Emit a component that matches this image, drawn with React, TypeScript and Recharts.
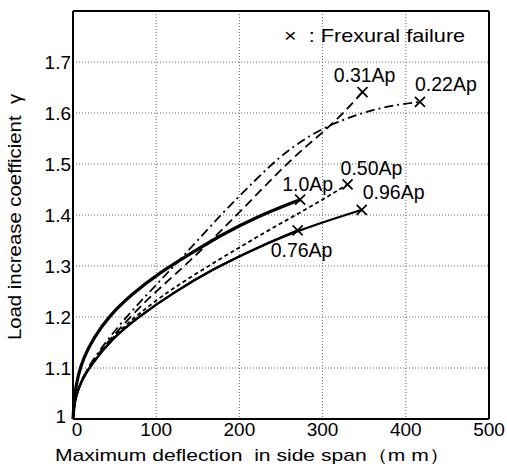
import { LineChart, Line, XAxis, YAxis, CartesianGrid, ReferenceLine } from "recharts";

// tick values
const xTicks = [0, 100, 200, 300, 400, 500];
const yTicks = [1, 1.1, 1.2, 1.3, 1.4, 1.5, 1.6, 1.7];

// 1.0Ap (thick solid)
const ap100X = [0, 2, 6, 12, 25, 44, 70, 105, 140, 177, 220, 273];
const ap100Y = [1.0, 1.05, 1.085, 1.118, 1.16, 1.203, 1.244, 1.288, 1.323, 1.36, 1.396, 1.43];

// 0.96Ap (solid)
const ap96X = [0, 2, 6, 12, 20, 45, 80, 120, 168, 220, 270, 347];
const ap96Y = [1.0, 1.035, 1.057, 1.08, 1.102, 1.155, 1.202, 1.247, 1.294, 1.335, 1.37, 1.41];

// 0.76Ap (solid, ends earlier)
const ap76X = [0, 2, 6, 12, 20, 45, 80, 120, 168, 220, 270];
const ap76Y = [1.0, 1.035, 1.057, 1.08, 1.102, 1.155, 1.202, 1.247, 1.294, 1.335, 1.37];

// 0.50Ap (short dash)
const ap50X = [0, 2, 6, 12, 20, 45, 80, 120, 177, 220, 273, 300, 330];
const ap50Y = [1.0, 1.035, 1.057, 1.08, 1.102, 1.158, 1.208, 1.257, 1.314, 1.356, 1.405, 1.43, 1.46];

// 0.31Ap (long dash)
const ap31X = [0, 2, 6, 12, 25, 56, 90, 120, 160, 200, 249, 280, 315, 348];
const ap31Y = [1.0, 1.035, 1.058, 1.082, 1.118, 1.178, 1.236, 1.279, 1.34, 1.405, 1.488, 1.535, 1.582, 1.641];

// 0.22Ap (dash-dot)
const ap22X = [0, 2, 6, 12, 25, 56, 90, 132, 180, 220, 249, 280, 315, 369, 417];
const ap22Y = [1.0, 1.035, 1.058, 1.083, 1.12, 1.186, 1.246, 1.318, 1.405, 1.47, 1.515, 1.552, 1.582, 1.612, 1.622];

const toRows = (xs: number[], ys: number[]) => xs.map((x, i) => ({ x, y: ys[i] }));

const FONT = "'Liberation Sans', Arial, Helvetica, sans-serif";

const series = [
  { name: "1.0Ap", data: toRows(ap100X, ap100Y), width: 3.2, dash: undefined, dx: -18, dy: -8.5, anchor: "start" },
  { name: "0.96Ap", data: toRows(ap96X, ap96Y), width: 2.2, dash: undefined, dx: 1, dy: -10.5, anchor: "start" },
  { name: "0.76Ap", data: toRows(ap76X, ap76Y), width: 2.2, dash: undefined, dx: -27, dy: 26.5, anchor: "start" },
  { name: "0.50Ap", data: toRows(ap50X, ap50Y), width: 1.8, dash: "4 3", dx: -7, dy: -9.5, anchor: "start" },
  { name: "0.31Ap", data: toRows(ap31X, ap31Y), width: 1.8, dash: "9 5", dx: 2, dy: -10.5, anchor: "middle" },
  { name: "0.22Ap", data: toRows(ap22X, ap22Y), width: 1.8, dash: "9 4 2 4", dx: -5, dy: -10.5, anchor: "start" },
];

function makeDot(s: (typeof series)[number]) {
  return (props: any) => {
    const { cx, cy, index } = props;
    const key = `${s.name}-${index}`;
    if (index !== s.data.length - 1) return <g key={key} />;
    return (
      <g key={key}>
        <path
          d={`M${cx - 5},${cy - 5}L${cx + 5},${cy + 5}M${cx + 5},${cy - 5}L${cx - 5},${cy + 5}`}
          stroke="#000"
          strokeWidth={1.7}
        />
        <text x={cx + s.dx} y={cy + s.dy} textAnchor={s.anchor} fontSize={19.5} fontFamily={FONT} fill="#000">
          {s.name}
        </text>
      </g>
    );
  };
}

function XTick(props: any) {
  const { x, y, payload } = props;
  const shift = payload.value === 0 ? 4 : 0;
  return (
    <text x={x + shift} y={y} dy="0.71em" textAnchor="middle" fontSize={19} fontFamily={FONT} fill="#000">
      {payload.value}
    </text>
  );
}

function YTick(props: any) {
  const { x, y, payload } = props;
  const isOne = payload.value === 1;
  return (
    <text
      x={isOne ? x - 5 : x}
      y={isOne ? y - 3 : y}
      dy="0.355em"
      textAnchor="end"
      fontSize={19}
      fontFamily={FONT}
      fill="#000"
    >
      {isOne ? "1" : payload.value.toFixed(1)}
    </text>
  );
}

export default function App() {
  return (
    <div style={{ position: "absolute", left: 0, top: 0, width: 507, height: 474, background: "#fff", fontFamily: FONT }}>
      <LineChart width={507} height={474} margin={{ top: 11, right: 18, bottom: 25, left: 0 }}>
        <CartesianGrid stroke="#666" strokeDasharray="1 2" strokeWidth={1} />
        <XAxis
          dataKey="x"
          type="number"
          domain={[0, 500]}
          ticks={xTicks}
          height={30}
          allowDuplicatedCategory={false}
          tickSize={0}
          tickMargin={4}
          tick={<XTick />}
          axisLine={{ stroke: "#000", strokeWidth: 2 }}
        />
        <YAxis
          type="number"
          domain={[1, 1.8]}
          ticks={yTicks}
          width={73}
          tickSize={0}
          tickMargin={2}
          tick={<YTick />}
          axisLine={{ stroke: "#000", strokeWidth: 2 }}
        />
        <ReferenceLine x={500} stroke="#000" strokeWidth={2} />
        <ReferenceLine y={1.8} stroke="#000" strokeWidth={2} />
        {series.map((s) => (
          <Line
            key={s.name}
            data={s.data}
            dataKey="y"
            type="basis"
            stroke="#000"
            strokeWidth={s.width}
            strokeDasharray={s.dash}
            dot={makeDot(s)}
            activeDot={false}
            isAnimationActive={false}
          />
        ))}
      </LineChart>
      <div
        style={{
          position: "absolute",
          left: 284,
          top: 25,
          fontSize: 19,
          whiteSpace: "pre",
          color: "#000",
          transform: "scaleX(1.14)",
          transformOrigin: "left center",
        }}
      >
        ×  : Frexural failure
      </div>
      <div
        style={{
          position: "absolute",
          left: 55,
          top: 444,
          fontSize: 17,
          whiteSpace: "pre",
          color: "#000",
          transform: "scaleX(1.24)",
          transformOrigin: "left center",
        }}
      >
        Maximum deflection  in side span（m m）
      </div>
      <div
        style={{
          position: "absolute",
          left: 15,
          top: 217,
          fontSize: 18,
          whiteSpace: "pre",
          color: "#000",
          transform: "translate(-50%, -50%) rotate(-90deg) scaleX(1.13)",
        }}
      >
        Load increase coefficient  γ
      </div>
    </div>
  );
}
